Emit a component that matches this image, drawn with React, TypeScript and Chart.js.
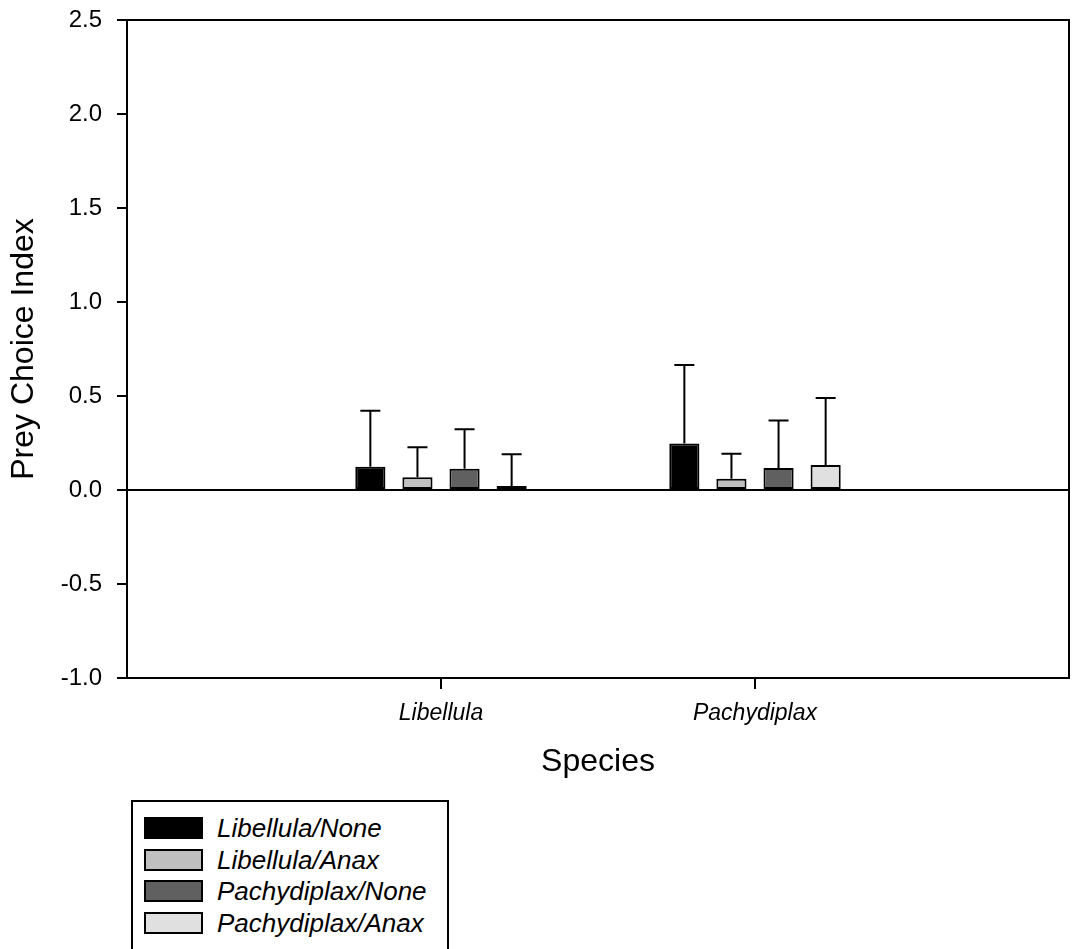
import React, { useEffect, useRef } from "react";
import { Chart, registerables } from "chart.js";

Chart.register(...registerables);

// ---- data ----
const categories = ["", "Libellula", "Pachydiplax", ""];
const seriesNames = ["Libellula/None", "Libellula/Anax", "Pachydiplax/None", "Pachydiplax/Anax"];
const libellulaNone = [null, 0.124, 0.248, null];
const libellulaAnax = [null, 0.068, 0.06, null];
const pachydiplaxNone = [null, 0.113, 0.117, null];
const pachydiplaxAnax = [null, 0.021, 0.133, null];
// upper error magnitudes
const libellulaNoneErr = [null, 0.298, 0.417, null];
const libellulaAnaxErr = [null, 0.159, 0.133, null];
const pachydiplaxNoneErr = [null, 0.21, 0.253, null];
const pachydiplaxAnaxErr = [null, 0.169, 0.357, null];
const yTicksMin = -1.0;
const yTicksMax = 2.5;
const yStep = 0.5;

const seriesValues = [libellulaNone, libellulaAnax, pachydiplaxNone, pachydiplaxAnax];
const seriesErrors = [libellulaNoneErr, libellulaAnaxErr, pachydiplaxNoneErr, pachydiplaxAnaxErr];
const seriesColors = ["#000000", "#c0c0c0", "#606060", "#e0e0e0"];

const FONT = '"Liberation Sans", Arial, Helvetica, sans-serif';

const framePlugin = {
  id: "frameAndErrors",
  beforeDatasetsDraw(chart: any) {
    const { ctx, chartArea, scales } = chart;
    const y0 = scales.y.getPixelForValue(0);
    ctx.save();
    ctx.strokeStyle = "#000";
    ctx.lineWidth = 2;
    ctx.beginPath();
    ctx.moveTo(chartArea.left, y0);
    ctx.lineTo(chartArea.right, y0);
    ctx.stroke();
    ctx.restore();
  },
  afterDatasetsDraw(chart: any) {
    const { ctx, chartArea, scales } = chart;
    ctx.save();
    ctx.strokeStyle = "#000";
    ctx.lineWidth = 2;
    // top and right frame
    ctx.beginPath();
    ctx.moveTo(chartArea.left, chartArea.top);
    ctx.lineTo(chartArea.right, chartArea.top);
    ctx.lineTo(chartArea.right, chartArea.bottom);
    ctx.stroke();
    // error bars (upper only)
    chart.data.datasets.forEach((ds: any, i: number) => {
      const meta = chart.getDatasetMeta(i);
      const errs = seriesErrors[i];
      meta.data.forEach((el: any, j: number) => {
        const v = ds.data[j];
        const e = errs[j];
        if (v === null || e === null || v === undefined) return;
        const yTop = scales.y.getPixelForValue(v);
        const yErr = scales.y.getPixelForValue(v + e);
        ctx.beginPath();
        ctx.moveTo(el.x, yTop);
        ctx.lineTo(el.x, yErr);
        ctx.moveTo(el.x - 10, yErr);
        ctx.lineTo(el.x + 10, yErr);
        ctx.stroke();
      });
    });
    ctx.restore();
  },
  afterDraw(chart: any) {
    const { ctx, chartArea, scales } = chart;
    ctx.save();
    ctx.fillStyle = "#000";
    // category tick marks below the x axis
    for (let idx = 0; idx < categories.length; idx++) {
      if (!categories[idx]) continue;
      const x = Math.round(scales.x.getPixelForValue(idx));
      ctx.fillRect(x - 1, chartArea.bottom, 2, 11);
    }
    ctx.restore();
  },
};

export default function App() {
  const canvasRef = useRef<HTMLCanvasElement | null>(null);

  useEffect(() => {
    if (!canvasRef.current) return;
    const chart = new Chart(canvasRef.current, {
      type: "bar",
      data: {
        labels: categories,
        datasets: seriesNames.map((name, i) => ({
          label: name,
          data: seriesValues[i],
          backgroundColor: seriesColors[i],
          borderColor: "#000",
          borderWidth: 2,
          borderSkipped: false,
          categoryPercentage: 0.6,
          barPercentage: 0.64,
        })),
      },
      options: {
        responsive: false,
        animation: false,
        devicePixelRatio: 1,
        layout: { padding: { top: 20, right: 6, left: 0, bottom: 0 } },
        plugins: {
          legend: { display: false },
          tooltip: { enabled: false },
        },
        scales: {
          x: {
            type: "category",
            offset: false,
            grid: {
              offset: false,
              drawOnChartArea: false,
              drawTicks: true,
              tickLength: 10,
              lineWidth: 2,
              color: "rgba(0,0,0,0)",
            },
            border: { color: "#000", width: 2 },
            ticks: {
              color: "#000",
              padding: 12,
              maxRotation: 0,
              autoSkip: false,
              font: { family: FONT, size: 23, style: "italic" },
            },
            title: {
              display: true,
              text: "Species",
              color: "#000",
              font: { family: FONT, size: 32 },
              padding: { top: 0, bottom: 9 },
            },
            afterFit: (s: any) => {
              s.height = 112;
              s.paddingLeft = 0;
              s.paddingRight = 0;
            },
          },
          y: {
            min: yTicksMin,
            max: yTicksMax,
            grid: {
              drawOnChartArea: false,
              drawTicks: true,
              tickLength: 10,
              lineWidth: 2,
              color: "#000",
            },
            border: { color: "#000", width: 2 },
            ticks: {
              stepSize: yStep,
              color: "#000",
              padding: 15,
              font: { family: FONT, size: 24 },
              callback: (v: any) => Number(v).toFixed(1),
            },
            title: {
              display: true,
              text: "Prey Choice Index",
              color: "#000",
              font: { family: FONT, size: 32 },
              padding: { top: 5, bottom: 0 },
            },
            afterFit: (s: any) => {
              s.width = 127;
              s.paddingTop = 0;
              s.paddingBottom = 0;
            },
          },
        },
      },
      plugins: [framePlugin],
    });
    return () => chart.destroy();
  }, []);

  return (
    <div style={{ position: "fixed", left: 0, top: 0, width: 1075, height: 949, background: "#fff", overflow: "hidden" }}>
      <canvas ref={canvasRef} width={1075} height={790} style={{ position: "absolute", left: 0, top: 0 }} />
      <div
        style={{
          position: "absolute",
          left: 131,
          top: 800,
          width: 318,
          height: 170,
          border: "2px solid #000",
          boxSizing: "border-box",
          fontFamily: FONT,
          fontStyle: "italic",
          fontSize: 26,
          color: "#000",
        }}
      >
        {seriesNames.map((name, i) => (
          <div
            key={name}
            style={{
              position: "absolute",
              left: 11,
              top: 15 + i * 31.7,
              height: 22,
              display: "flex",
              alignItems: "center",
              whiteSpace: "nowrap",
            }}
          >
            <span
              style={{
                display: "inline-block",
                width: 59,
                height: 22,
                boxSizing: "border-box",
                border: "2px solid #000",
                background: seriesColors[i],
                marginRight: 14,
              }}
            />
            <span style={{ lineHeight: "22px" }}>{name}</span>
          </div>
        ))}
      </div>
    </div>
  );
}
